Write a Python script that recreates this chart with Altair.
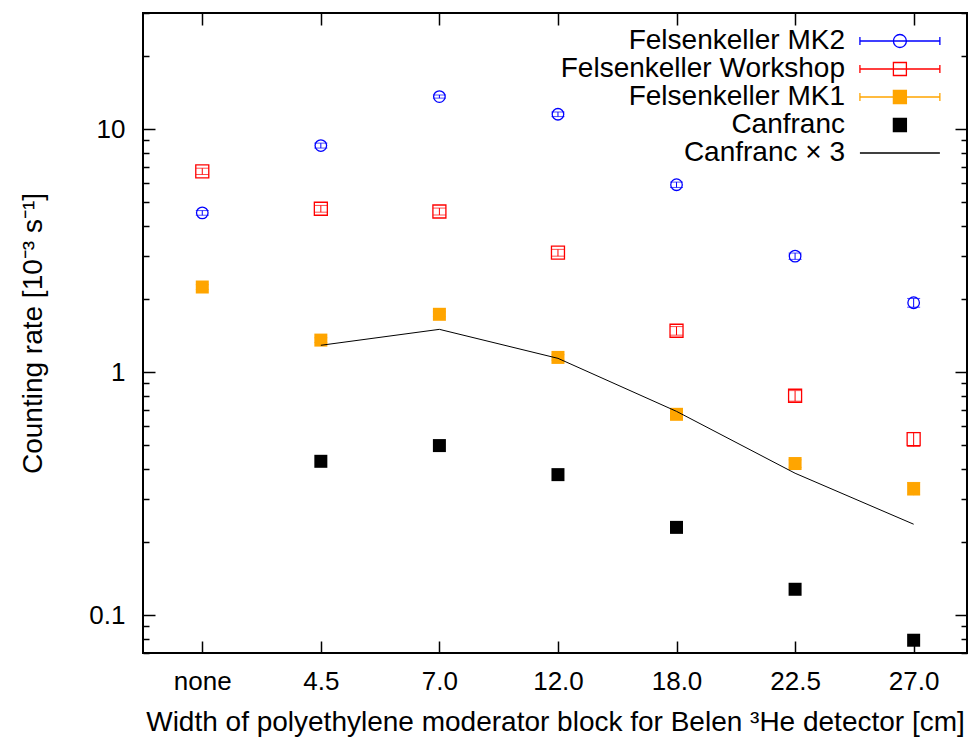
import json
import altair as alt
import pandas as pd

# ---------------- data ----------------
widths = ["none", "4.5", "7.0", "12.0", "18.0", "22.5", "27.0"]
series_names = ["Felsenkeller MK2", "Felsenkeller Workshop", "Felsenkeller MK1",
                "Canfranc", "Canfranc \u00d7 3"]

mk2 = [4.52, 8.55, 13.6, 11.5, 5.90, 3.00, 1.93]
mk2_err = [0.10, 0.20, 0.20, 0.25, 0.15, 0.09, 0.08]
workshop = [6.70, 4.70, 4.58, 3.10, 1.48, 0.80, 0.53]
workshop_err = [0.20, 0.15, 0.15, 0.10, 0.06, 0.04, 0.035]
mk1 = [2.24, 1.355, 1.73, 1.15, 0.671, 0.421, 0.332]
mk1_err = [0.05, 0.03, 0.04, 0.03, 0.02, 0.015, 0.02]
canfranc = [None, 0.430, 0.499, 0.379, 0.230, 0.128, 0.079]
canfranc3 = [None, 1.29, 1.50, 1.14, 0.69, 0.384, 0.237]

y_major = [0.1, 1, 10]
y_minor = [0.07, 0.08, 0.09, 0.2, 0.3, 0.4, 0.5, 0.6, 0.7, 0.8, 0.9,
           2, 3, 4, 5, 6, 7, 8, 9, 20, 30]

# ---------------- style ----------------
FONT = "Liberation Sans"
FS = 26      # tick labels
FS_T = 28    # titles and key
BLUE, RED, ORANGE, BLACK = "#0000ff", "#ff0000", "#ffa500", "#000000"

rows = []
def add(name, vals, errs=None):
    for i, v in enumerate(vals):
        if v is None:
            continue
        e = errs[i] if errs else 0.0
        rows.append({"idx": i, "series": name, "value": v, "lo": v - e, "hi": v + e})

add(series_names[0], mk2, mk2_err)
add(series_names[1], workshop, workshop_err)
add(series_names[2], mk1, mk1_err)
add(series_names[3], canfranc)
add(series_names[4], canfranc3)
df = pd.DataFrame(rows)

xscale = alt.Scale(domain=[-0.5, 6.45], nice=False, zero=False)
yscale = alt.Scale(type="log", domain=[0.07, 30], nice=False)

common_axis = dict(grid=False, domain=False, tickColor=BLACK, tickWidth=1.5,
                   labelFont=FONT, labelFontSize=FS, labelColor=BLACK,
                   titleFont=FONT, titleFontSize=FS_T, titleColor=BLACK,
                   titleFontWeight="normal")

label_expr = json.dumps(widths) + "[datum.value]"

ax_bottom = alt.Axis(orient="bottom", values=list(range(7)), labelExpr=label_expr,
                     tickSize=12, offset=-12, labelPadding=15,
                     title="Width of polyethylene moderator block for Belen \u00b3He detector [cm]",
                     titlePadding=14, **common_axis)
ax_top = alt.Axis(orient="top", values=list(range(7)), labels=False,
                  tickSize=12, offset=-12, title="", **common_axis)
ax_left_major = alt.Axis(orient="left", values=y_major, format="~g",
                         tickSize=12, offset=-12, labelPadding=18,
                         title="Counting rate [10\u207b\u00b3 s\u207b\u00b9]",
                         titlePadding=41, **common_axis)
ax_left_minor = alt.Axis(orient="left", values=y_minor, labels=False,
                         tickSize=6, offset=-6, title="", **common_axis)
ax_right_major = alt.Axis(orient="right", values=y_major, labels=False,
                          tickSize=12, offset=-12, title="", **common_axis)
ax_right_minor = alt.Axis(orient="right", values=y_minor, labels=False,
                          tickSize=6, offset=-6, title="", **common_axis)


def X(axis=None):
    if axis is None:
        return alt.X("idx:Q", scale=xscale, axis=None)
    return alt.X("idx:Q", scale=xscale, axis=axis)


def Y(field, axis=None):
    if axis is None:
        return alt.Y(f"{field}:Q", scale=yscale, axis=None)
    return alt.Y(f"{field}:Q", scale=yscale, axis=axis)


base = alt.Chart()
layers = []

# error bars
for name, col in [(series_names[0], BLUE), (series_names[1], RED), (series_names[2], ORANGE)]:
    sub = base.transform_filter(alt.datum.series == name)
    layers.append(sub.mark_rule(color=col, strokeWidth=1).encode(
        x=X(), y=Y("lo"), y2="hi"))
    for f in ["lo", "hi"]:
        layers.append(sub.mark_tick(color=col, orient="horizontal", size=13,
                                    thickness=1).encode(x=X(), y=Y(f)))

# points
layers.append(base.transform_filter(alt.datum.series == series_names[0])
              .mark_point(shape="circle", filled=False, size=133, color=BLUE,
                          strokeWidth=1.3, opacity=1)
              .encode(x=X(ax_bottom), y=Y("value", ax_left_major)))
layers.append(base.transform_filter(alt.datum.series == series_names[1])
              .mark_point(shape="square", filled=False, size=169, color=RED,
                          strokeWidth=1.3, opacity=1)
              .encode(x=X(ax_top), y=Y("value", ax_left_minor)))
layers.append(base.transform_filter(alt.datum.series == series_names[2])
              .mark_point(shape="square", filled=True, size=169, color=ORANGE,
                          opacity=1)
              .encode(x=X(), y=Y("value", ax_right_major)))
layers.append(base.transform_filter(alt.datum.series == series_names[3])
              .mark_point(shape="square", filled=True, size=169, color=BLACK,
                          opacity=1)
              .encode(x=X(), y=Y("value", ax_right_minor)))

# Canfranc x 3 line
layers.append(base.transform_filter(alt.datum.series == series_names[4])
              .mark_line(color=BLACK, strokeWidth=1)
              .encode(x=X(), y=Y("value")))

# key (gnuplot style: text on the left, sample to its right)
DX = 10.6   # sample centre shift, in symbol units (6.5 px)
HW = 6.15   # half width of the sample line, in symbol units


def f(v):
    return f"{v:.2f}"


L = (f"M{f(DX-HW)},0L{f(DX+HW)},0"
     f"M{f(DX-HW)},-0.6L{f(DX-HW)},0.6M{f(DX+HW)},-0.6L{f(DX+HW)},0.6")
circ = f"M{f(DX+1)},0A1,1,0,1,1,{f(DX-1)},0A1,1,0,1,1,{f(DX+1)},0Z"
sq = f"M{f(DX-1)},-1H{f(DX+1)}V1H{f(DX-1)}Z"
line_only = f"M{f(DX-HW)},0L{f(DX+HW)},0"
shape_range = [L + circ, L + sq, L + sq, sq, line_only]
stroke_range = [BLUE, RED, ORANGE, BLACK, BLACK]
fill_range = ["transparent", "transparent", ORANGE, BLACK, "transparent"]

leg = alt.Legend(orient="none", legendX=674, legendY=14, title=None,
                 labelAlign="right", labelOffset=0, symbolOffset=0,
                 labelFont=FONT, labelFontSize=FS_T, labelColor=BLACK,
                 labelLimit=600, symbolSize=169, symbolStrokeWidth=1.3,
                 rowPadding=0, padding=0)

layers.append(base.transform_filter("false")
              .mark_point(size=169, strokeWidth=1.3, opacity=1)
              .encode(x=X(), y=Y("value"),
                      shape=alt.Shape("series:N", scale=alt.Scale(domain=series_names, range=shape_range), legend=leg),
                      stroke=alt.Stroke("series:N", scale=alt.Scale(domain=series_names, range=stroke_range), legend=leg),
                      fill=alt.Fill("series:N", scale=alt.Scale(domain=series_names, range=fill_range), legend=leg)))

chart = (alt.layer(*layers, data=df)
         .resolve_scale(x="independent", y="independent")
         .resolve_axis(x="independent", y="independent")
         .properties(width=824, height=640,
                     autosize=alt.AutoSizeParams(type="none"),
                     padding={"left": 143, "top": 13, "right": 5, "bottom": 88},
                     background="white")
         .configure_view(stroke=BLACK, strokeWidth=2))

chart.save("out.html", embed_options={"renderer": "svg", "actions": False})
